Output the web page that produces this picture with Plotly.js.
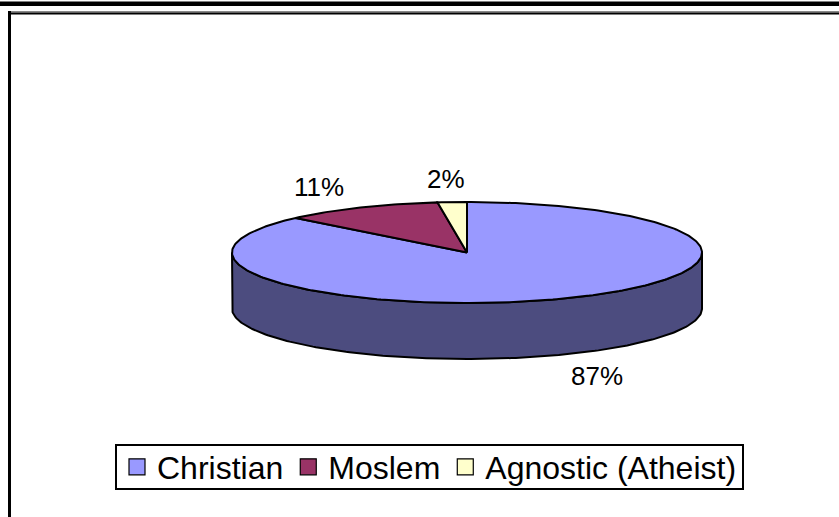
<!DOCTYPE html>
<html>
<head>
<meta charset="utf-8">
<script src="https://cdn.plot.ly/plotly-3.0.1.min.js"></script>
<style>html,body{margin:0;padding:0;background:#fff;}#chart{width:839px;height:517px;}</style>
</head>
<body>
<div id="chart"></div>
<script>
// ---- data ----
const categories = ['Christian', 'Moslem', 'Agnostic (Atheist)'];
const values = [87, 11, 2];

// ---- styles ----
const topColors = ['#9999FF', '#993366', '#FFFFCC'];
const sideColors = ['#4C4C7F', '#4C1933', '#7F7F66'];
const FONT = 'Liberation Sans, Arial, sans-serif';

// ---- 3D pie geometry (layout, in axis units = pixels) ----
const W = 839, H = 517;
const CX = 467, CY = 252.5, RX = 235, RY = 50.5, DEPTH = 56;

function pt(theta, dy) {
  return [CX + RX * Math.sin(theta), CY - RY * Math.cos(theta) + dy];
}
function arc(a, b, dy) {
  const n = Math.max(2, Math.ceil((b - a) / (Math.PI / 180)));
  const xs = [], ys = [];
  for (let i = 0; i <= n; i++) {
    const p = pt(a + (b - a) * i / n, dy);
    xs.push(p[0]); ys.push(p[1]);
  }
  return [xs, ys];
}

const total = values.reduce((s, v) => s + v, 0);
const sideTraces = [], topTraces = [], annotations = [];
let acc = 0;
values.forEach((v, i) => {
  const a = acc / total * 2 * Math.PI;
  acc += v;
  const b = acc / total * 2 * Math.PI;
  // visible side wall (front half)
  const lo = Math.max(a, Math.PI / 2), hi = Math.min(b, 3 * Math.PI / 2);
  if (lo < hi) {
    const t = arc(lo, hi, 0), bt = arc(lo, hi, DEPTH);
    sideTraces.push({
      type: 'scatter', mode: 'lines', fill: 'toself',
      x: t[0].concat(bt[0].slice().reverse()).concat([t[0][0]]),
      y: t[1].concat(bt[1].slice().reverse()).concat([t[1][0]]),
      fillcolor: sideColors[i], line: {color: '#000', width: 2},
      showlegend: false, hoverinfo: 'skip'
    });
  }
  // top face
  const t = arc(a, b, 0);
  topTraces.push({
    type: 'scatter', mode: 'lines', fill: 'toself',
    x: [CX].concat(t[0]).concat([CX]),
    y: [CY].concat(t[1]).concat([CY]),
    fillcolor: topColors[i], line: {color: '#000', width: 2},
    showlegend: false, hoverinfo: 'skip'
  });
  // percentage label
  const m = (a + b) / 2;
  const lx = CX + 1.39 * RX * Math.sin(m);
  const ly = CY - 1.45 * RY * Math.cos(m) + (Math.cos(m) < 0 ? DEPTH : 0);
  annotations.push({
    x: lx, y: ly, xref: 'x', yref: 'y', showarrow: false,
    text: Math.round(v / total * 100) + '%',
    font: {family: FONT, size: 26, color: '#000'},
    xanchor: 'center', yanchor: 'middle'
  });
});

const legendTraces = categories.map((c, i) => ({
  type: 'scatter', mode: 'markers', x: [null], y: [null], name: c,
  marker: {symbol: 'square', size: 16, color: topColors[i], line: {color: '#000', width: 1.2}},
  showlegend: true, hoverinfo: 'skip'
}));

function px(x) { return x / W; }
function py(y) { return 1 - y / H; }
const shapes = [
  {type: 'rect', xref: 'paper', yref: 'paper', x0: 0, x1: 1, y0: py(6), y1: py(1.5), fillcolor: '#000', line: {width: 0}},
  {type: 'rect', xref: 'paper', yref: 'paper', x0: px(8), x1: 1, y0: py(12.5), y1: py(11), fillcolor: '#888', line: {width: 0}},
  {type: 'rect', xref: 'paper', yref: 'paper', x0: px(8), x1: 1, y0: py(14.5), y1: py(12.5), fillcolor: '#000', line: {width: 0}},
  {type: 'rect', xref: 'paper', yref: 'paper', x0: px(8), x1: px(11), y0: 0, y1: py(11), fillcolor: '#000', line: {width: 0}},
  // legend frame
  {type: 'rect', xref: 'paper', yref: 'paper', x0: px(116), x1: px(743), y0: py(489), y1: py(445), fillcolor: '#fff', line: {color: '#000', width: 2}, layer: 'below'}
];

const layout = {
  width: W, height: H,
  margin: {l: 0, r: 0, t: 0, b: 0, pad: 0},
  paper_bgcolor: '#fff', plot_bgcolor: 'rgba(0,0,0,0)',
  xaxis: {range: [0, W], visible: false, fixedrange: true},
  yaxis: {range: [H, 0], visible: false, fixedrange: true},
  showlegend: true,
  legend: {
    orientation: 'h', x: 429.5 / W, xanchor: 'center', y: py(467), yanchor: 'middle',
    borderwidth: 0, bgcolor: 'rgba(0,0,0,0)',
    font: {family: FONT, size: 32, color: '#000'}, traceorder: 'normal'
  },
  annotations: annotations,
  shapes: shapes,
  hovermode: false
};

Plotly.newPlot('chart', sideTraces.concat(topTraces).concat(legendTraces), layout, {staticPlot: true, displayModeBar: false});
</script>
</body>
</html>
